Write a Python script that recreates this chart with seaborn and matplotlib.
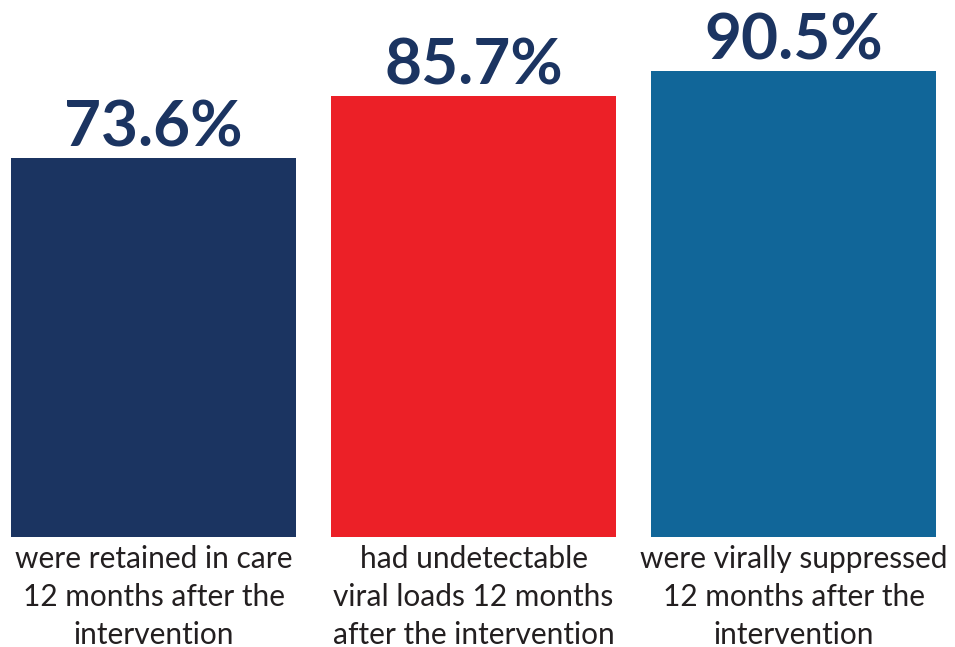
import matplotlib
matplotlib.use("Agg")
import matplotlib.pyplot as plt
import seaborn as sns
import pandas as pd

categories = [
    "were retained in care\n12 months after the\nintervention",
    "had undetectable\nviral loads 12 months\nafter the intervention",
    "were virally suppressed\n12 months after the\nintervention",
]
values = [73.6, 85.7, 90.5]
value_labels = ["73.6%", "85.7%", "90.5%"]
colors = ["#1b3461", "#ec2027", "#116699"]

sns.set_theme(style="white")
plt.rcParams["font.family"] = ["Lato", "DejaVu Sans"]

df = pd.DataFrame({"category": categories, "value": values})

fig = plt.figure(figsize=(9.55, 6.47), dpi=100)
ax = fig.add_axes([0, 110 / 647, 1, 537 / 647])

sns.barplot(data=df, x="category", y="value", hue="category", palette=colors,
            width=0.89, saturation=1, legend=False, linewidth=0, ax=ax)

ax.set_xlim(-153.5 / 320, (955 - 153.5) / 320)
ax.set_ylim(0, 537 / 5.15)

for i, (v, lab) in enumerate(zip(values, value_labels)):
    ax.annotate(lab, xy=(i, v), xytext=(0, 1), textcoords="offset points",
                ha="center", va="bottom", fontsize=46, fontweight="bold",
                color="#1b3461")

ax.set_xlabel("")
ax.set_ylabel("")
ax.set_yticks([])
ax.tick_params(axis="x", length=0, pad=6)
for t in ax.get_xticklabels():
    t.set_fontsize(21.5)
    t.set_color("#231f20")
    t.set_linespacing(1.42)
for s in ax.spines.values():
    s.set_visible(False)

fig.savefig("out.png", dpi=100)
